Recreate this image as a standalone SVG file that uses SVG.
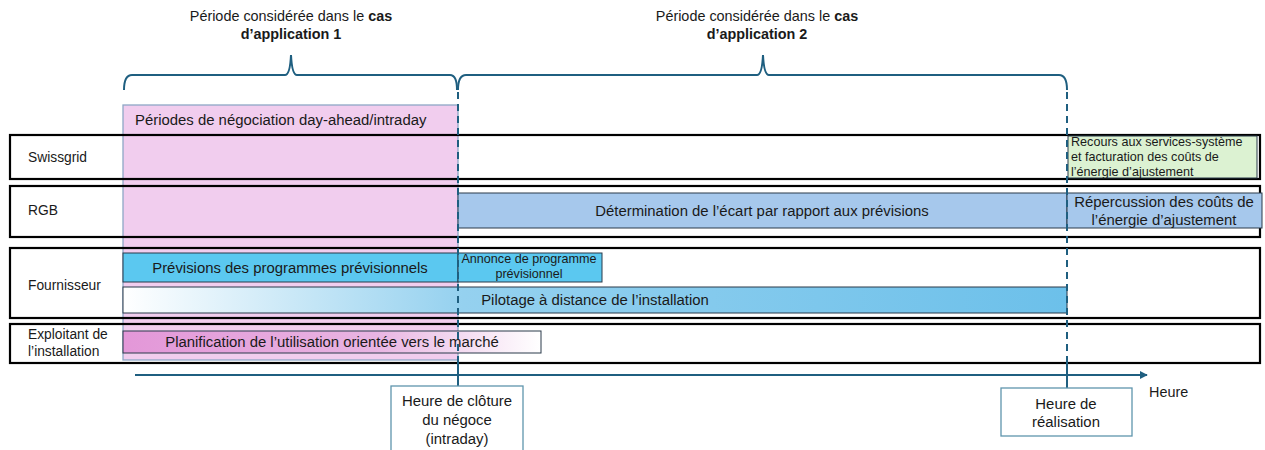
<svg xmlns="http://www.w3.org/2000/svg" width="1265" height="450" viewBox="0 0 1265 450">
<defs>
<style>
text{font-family:"Liberation Sans",Arial,sans-serif;fill:#1a1a1a}
.t{font-size:14.9px}
.h{font-size:14.4px}
.s{font-size:12.6px}
.a{font-size:12.6px}
.lbl{font-size:13.8px}
.row{fill:none;stroke:#000;stroke-width:2.2}
.brace{fill:none;stroke:#1F5F80;stroke-width:2}
.dash{stroke:#1F5F80;stroke-width:2;stroke-dasharray:7 5}
.solid{stroke:#1F5F80;stroke-width:2}
.bar{stroke:#2b3a4a;stroke-width:1}
.mbox{fill:#fff;stroke:#5f95ad;stroke-width:1.3}
</style>
<linearGradient id="gPil" x1="0" y1="0" x2="1" y2="0">
<stop offset="0" stop-color="#ffffff"/>
<stop offset="0.36" stop-color="#95d1ef"/>
<stop offset="1" stop-color="#6cc0ea"/>
</linearGradient>
<linearGradient id="gPlan" x1="0" y1="0" x2="1" y2="0">
<stop offset="0" stop-color="#e397d8"/>
<stop offset="0.6" stop-color="#e8b4e2"/>
<stop offset="1" stop-color="#ffffff"/>
</linearGradient>
<marker id="arr" viewBox="0 0 10 10" refX="9" refY="5" markerWidth="4" markerHeight="4" orient="auto">
<path d="M0,0 L10,5 L0,10 z" fill="#1F5F80"/>
</marker>
</defs>

<g id="titles">
<text class="h" x="291" y="21" text-anchor="middle">Période considérée dans le <tspan font-weight="bold">cas</tspan></text>
<text class="h" x="291" y="39" text-anchor="middle" font-weight="bold">d’application 1</text>
<text class="h" x="757" y="21" text-anchor="middle">Période considérée dans le <tspan font-weight="bold">cas</tspan></text>
<text class="h" x="757" y="39" text-anchor="middle" font-weight="bold">d’application 2</text>
</g>

<g id="braces">
<path class="brace" d="M124,90 Q124,75 132,75 L285,75 Q290,75 291,55 Q292,75 297,75 L450,75 Q457,75 457,90"/>
<path class="brace" d="M458,90 Q458,75 466,75 L757,75 Q762,75 763,55 Q764,75 769,75 L1059,75 Q1067,75 1067,90"/>
</g>

<g id="period">
<rect x="123" y="105" width="335" height="255" fill="#f1cdee" stroke="#8ea7c6" stroke-width="1.3"/>
<text class="t" x="135" y="125">Périodes de négociation day-ahead/intraday</text>
</g>

<g id="row-swissgrid">
<rect class="row" x="10" y="135" width="1250" height="44"/>
<text class="lbl" x="28" y="162">Swissgrid</text>
</g>
<g id="row-rgb">
<rect class="row" x="10" y="186" width="1250" height="51"/>
<text class="lbl" x="28" y="215">RGB</text>
</g>
<g id="row-fournisseur">
<rect class="row" x="10" y="248" width="1250" height="70"/>
<text class="lbl" x="28" y="290">Fournisseur</text>
</g>
<g id="row-exploitant">
<rect class="row" x="10" y="324" width="1250" height="39"/>
<text class="lbl" x="28" y="339">Exploitant de</text>
<text class="lbl" x="28" y="356">l’installation</text>
</g>

<g id="recours">
<rect x="1068" y="136" width="189" height="42" fill="#dcf2d2" stroke="#2b3a4a" stroke-width="1"/>
<text class="s" x="1071" y="146">Recours aux services-système</text>
<text class="s" x="1071" y="161">et facturation des coûts de</text>
<text class="s" x="1071" y="176">l’énergie d’ajustement</text>
</g>

<g id="determination">
<rect class="bar" x="458" y="193" width="609" height="35" fill="#a6c8ec"/>
<text class="t" x="762" y="216" text-anchor="middle">Détermination de l’écart par rapport aux prévisions</text>
</g>

<g id="repercussion">
<rect class="bar" x="1067" y="193" width="195" height="35" fill="#a6c8ec"/>
<text class="t" x="1164" y="207" text-anchor="middle">Répercussion des coûts de</text>
<text class="t" x="1164" y="225" text-anchor="middle">l’énergie d’ajustement</text>
</g>

<g id="previsions">
<rect class="bar" x="123" y="253" width="335" height="29" fill="#5bc8f0"/>
<text class="t" x="290" y="273" text-anchor="middle">Prévisions des programmes prévisionnels</text>
</g>

<g id="annonce">
<rect class="bar" x="458" y="253" width="144" height="29" fill="#5bc8f0"/>
<text class="a" x="529" y="263" text-anchor="middle">Annonce de programme</text>
<text class="a" x="529" y="278" text-anchor="middle">prévisionnel</text>
</g>

<g id="pilotage">
<rect class="bar" x="123" y="287" width="944" height="26" fill="url(#gPil)"/>
<text class="t" x="595" y="305" text-anchor="middle">Pilotage à distance de l’installation</text>
</g>

<g id="planification">
<rect class="bar" x="123" y="331" width="418" height="22" fill="url(#gPlan)"/>
<text class="t" x="332" y="347" text-anchor="middle">Planification de l’utilisation orientée vers le marché</text>
</g>

<g id="connectors">
<line class="dash" x1="458" y1="92" x2="458" y2="372"/>
<line class="dash" x1="1067" y1="92" x2="1067" y2="372"/>
<line class="solid" x1="458" y1="362" x2="458" y2="386"/>
<line class="solid" x1="1067" y1="362" x2="1067" y2="388"/>
<line class="solid" x1="135" y1="375" x2="1147" y2="375" marker-end="url(#arr)"/>
</g>

<g id="cloture">
<rect class="mbox" x="391" y="386" width="132" height="70"/>
<text class="t" x="457" y="406" text-anchor="middle">Heure de clôture</text>
<text class="t" x="457" y="425" text-anchor="middle">du négoce</text>
<text class="t" x="457" y="444" text-anchor="middle">(intraday)</text>
</g>

<g id="realisation">
<rect class="mbox" x="1001" y="388" width="131" height="48"/>
<text class="t" x="1066" y="409" text-anchor="middle">Heure de</text>
<text class="t" x="1066" y="427" text-anchor="middle">réalisation</text>
</g>

<g id="axis-label">
<text class="h" x="1149" y="397">Heure</text>
</g>
</svg>
